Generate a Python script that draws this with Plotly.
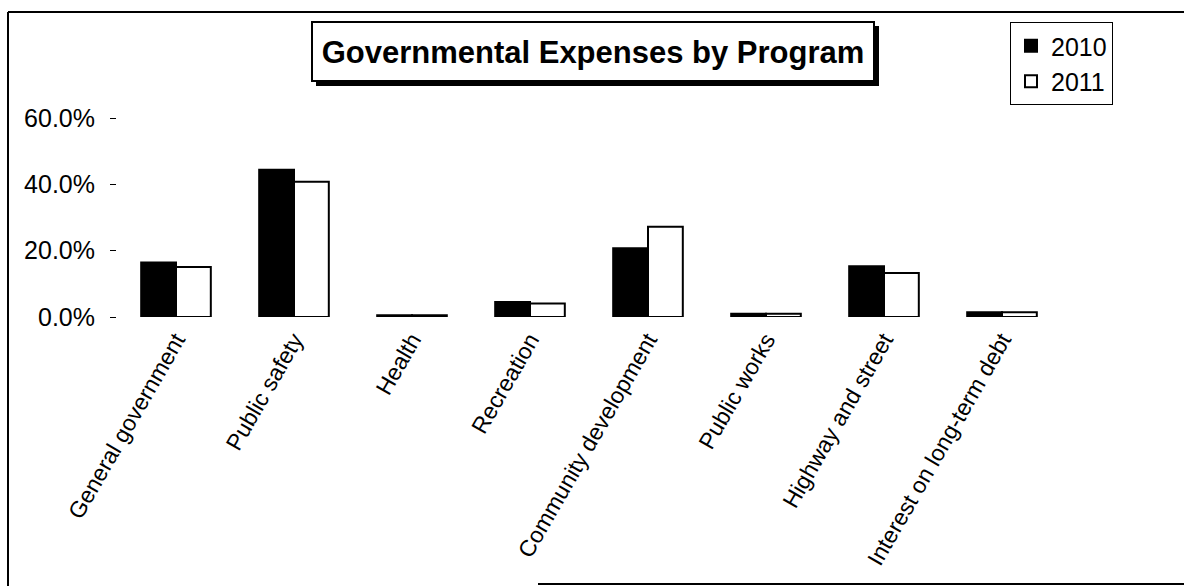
import plotly.graph_objects as go

categories = ["General government", "Public safety", "Health", "Recreation",
              "Community development", "Public works", "Highway and street",
              "Interest on long-term debt"]
values_2010 = [0.164, 0.444, 0.005, 0.045, 0.207, 0.010, 0.153, 0.014]
values_2011 = [0.151, 0.408, 0.005, 0.041, 0.272, 0.010, 0.133, 0.014]
series_names = ["2010", "2011"]
title_text = "Governmental Expenses by Program"
y_ticks = [0.0, 0.2, 0.4, 0.6]

W, H = 1184, 586
ML, MR, MT, MB = 117, 123, 118, 269
PW, PH = W - ML - MR, H - MT - MB


def px(x):
    return (x - ML) / PW


def py(y):
    return (H - MB - y) / PH


FONT = "Liberation Sans, Arial, sans-serif"

fig = go.Figure()
fig.add_trace(go.Bar(name=series_names[0], x=categories, y=values_2010,
                     marker=dict(color="black", line=dict(color="black", width=2))))
fig.add_trace(go.Bar(name=series_names[1], x=categories, y=values_2011,
                     marker=dict(color="white", line=dict(color="black", width=2))))

shapes = [
    # outer chart border pieces
    dict(type="line", xref="paper", yref="paper", x0=px(8), x1=px(8), y0=py(12), y1=py(586),
         line=dict(color="black", width=2)),
    dict(type="line", xref="paper", yref="paper", x0=px(8), x1=px(1184), y0=py(12), y1=py(12),
         line=dict(color="black", width=2)),
    dict(type="line", xref="paper", yref="paper", x0=px(538), x1=px(1184), y0=py(584), y1=py(584),
         line=dict(color="black", width=2)),
    # title box shadow and box
    dict(type="rect", xref="paper", yref="paper", x0=px(316), x1=px(879), y0=py(26), y1=py(86),
         fillcolor="black", line=dict(width=0)),
    dict(type="rect", xref="paper", yref="paper", x0=px(312), x1=px(874), y0=py(22), y1=py(81),
         fillcolor="white", line=dict(color="black", width=2)),
]

fig.update_layout(
    width=W, height=H,
    margin=dict(l=ML, r=MR, t=MT, b=MB, autoexpand=False),
    paper_bgcolor="white", plot_bgcolor="white",
    font=dict(family=FONT, color="black", size=22),
    barmode="group", bargap=0.41, bargroupgap=0,
    title=dict(text="<b>" + title_text + "</b>", xref="container", yref="container",
               x=593 / W, y=1 - 52 / H, xanchor="center", yanchor="middle",
               font=dict(family=FONT, size=31, color="black")),
    legend=dict(x=px(1010), y=py(22), xanchor="left", yanchor="top",
                bordercolor="black", borderwidth=1, bgcolor="white",
                font=dict(family=FONT, size=25, color="black"),
                itemwidth=30, tracegroupgap=0),
    shapes=shapes,
    xaxis=dict(showgrid=False, zeroline=False, showline=False, ticks="",
               tickangle=-60, ticklabelstandoff=4,
               tickfont=dict(family=FONT, size=23, color="black")),
    yaxis=dict(range=[0, 0.6], tickvals=y_ticks, tickformat=".1%",
               showgrid=False, zeroline=False, showline=False,
               ticks="outside", ticklen=6, tickwidth=1, tickcolor="black",
               ticklabelstandoff=10,
               tickfont=dict(family=FONT, size=25, color="black")),
)

fig.write_html("out.html")
